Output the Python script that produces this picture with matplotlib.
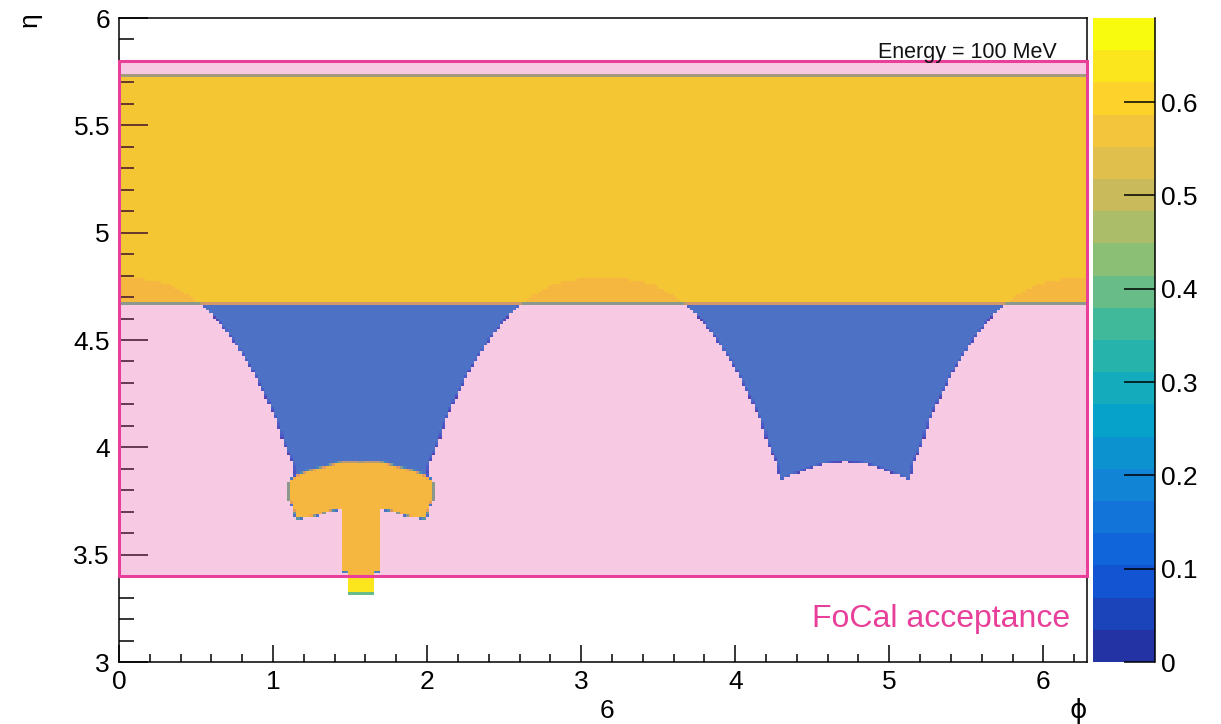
import numpy as np
import matplotlib
matplotlib.use("Agg")
import matplotlib.pyplot as plt
from matplotlib.path import Path
from matplotlib.colors import ListedColormap, BoundaryNorm, LinearSegmentedColormap
from matplotlib.patches import Rectangle
from matplotlib.ticker import MultipleLocator, FormatStrFormatter

plt.rcParams['font.family'] = ['Liberation Sans', 'DejaVu Sans']

# ---------------- data ----------------
phi_min, phi_max = 0.0, 2 * np.pi
eta_min, eta_max = 3.0, 6.0
n_phi_bins = 300
n_eta_bins = 240
z_max = 0.69
n_levels = 20

# forward band (full phi coverage)
band_eta = [4.667, 5.733]
band_value = 0.685

# slightly lower-valued rims inside the band, centred at phi = 0, pi, 2pi
rim_centers = [0.0, np.pi, 2 * np.pi]
rim_d = [-0.526, -0.42, -0.31, -0.16, 0.0, 0.16, 0.31, 0.42, 0.526]
rim_eta = [4.667, 4.725, 4.765, 4.785, 4.795, 4.785, 4.765, 4.725, 4.667]
rim_value = 0.64

# blue arches below the band, centred at phi = pi/2, 3pi/2 (half outline: top -> bottom centre)
arch_centers = [np.pi / 2, 3 * np.pi / 2]
arch_e = [1.045, 0.92, 0.83, 0.74, 0.70, 0.63, 0.55, 0.49, 0.44, 0.42, 0.30, 0.20, 0.10, 0.0]
arch_eta = [4.667, 4.588, 4.50, 4.40, 4.355, 4.255, 4.135, 4.00, 3.93, 3.85, 3.885, 3.912, 3.93, 3.935]
arch_value = 0.19

# mushroom-shaped patch at phi = pi/2 (half outline, offsets from centre)
mush_center = np.pi / 2
mush_e = [0.0, -0.125, -0.24, -0.33, -0.41, -0.46, -0.475, -0.475, -0.45, -0.42,
          -0.33, -0.25, -0.19, -0.127, -0.127, -0.086, -0.086, 0.0]
mush_eta = [3.933, 3.933, 3.910, 3.893, 3.872, 3.850, 3.835, 3.75, 3.74, 3.668,
            3.674, 3.690, 3.705, 3.712, 3.42, 3.42, 3.3165, 3.3165]
mush_value = 0.64

# acceptance box
box_phi = [0.0, 2 * np.pi]
box_eta = [3.4, 5.8]

cbar_ticks = [0, 0.1, 0.2, 0.3, 0.4, 0.5, 0.6]

# ROOT kBird-like palette stops (as seen on screen)
bird_stops = [0.0, 0.125, 0.25, 0.375, 0.5, 0.625, 0.75, 0.875, 1.0]
bird_r = [0.14, 0.0592, 0.0780, 0.0232, 0.1802, 0.5301, 0.8186, 0.9956, 0.9764]
bird_g = [0.20, 0.3599, 0.5041, 0.6419, 0.7178, 0.7492, 0.7328, 0.7862, 0.9832]
bird_b = [0.64, 0.8684, 0.8385, 0.7914, 0.6425, 0.4662, 0.3499, 0.1968, 0.0539]

pink = (232 / 255, 64 / 255, 154 / 255)

# ---------------- build histogram (bin coverage) ----------------
phi_edges = np.linspace(phi_min, phi_max, n_phi_bins + 1)
eta_edges = np.linspace(eta_min, eta_max, n_eta_bins + 1)
sub = 8
dphi = (phi_max - phi_min) / n_phi_bins
deta = (eta_max - eta_min) / n_eta_bins
px = phi_min + (np.arange(n_phi_bins * sub) + 0.5) * dphi / sub
py = eta_min + (np.arange(n_eta_bins * sub) + 0.5) * deta / sub
PX, PY = np.meshgrid(px, py)
val = np.zeros(PX.shape)


def inside(verts):
    """Boolean mask of sub-samples inside polygon (restricted to its bounding box)."""
    verts = np.asarray(verts)
    out = np.zeros(PX.shape, dtype=bool)
    ix = np.where((px >= verts[:, 0].min()) & (px <= verts[:, 0].max()))[0]
    iy = np.where((py >= verts[:, 1].min()) & (py <= verts[:, 1].max()))[0]
    if len(ix) == 0 or len(iy) == 0:
        return out
    sx, sy = np.meshgrid(px[ix], py[iy])
    m = Path(verts).contains_points(np.column_stack([sx.ravel(), sy.ravel()]))
    out[iy[0]:iy[-1] + 1, ix[0]:ix[-1] + 1] = m.reshape(sx.shape)
    return out


inband = (PY >= band_eta[0]) & (PY <= band_eta[1])
val[inband] = band_value
for c in rim_centers:
    m = inside(np.column_stack([c + np.array(rim_d), np.array(rim_eta)]))
    val[m & inband] = rim_value

ae = np.array(arch_e)
aeta = np.array(arch_eta)
for c in arch_centers:
    m = inside(np.column_stack([np.concatenate([c - ae, c + ae[::-1]]),
                                np.concatenate([aeta, aeta[::-1]])]))
    val[m & ~inband] = arch_value

me = np.array(mush_e)
meta = np.array(mush_eta)
m = inside(np.column_stack([np.concatenate([mush_center + me, mush_center - me[::-1]]),
                            np.concatenate([meta, meta[::-1]])]))
val[m] = mush_value

blocks = val.reshape(n_eta_bins, sub, n_phi_bins, sub)
H = blocks.mean(axis=(1, 3))
coverage = (blocks > 0).mean(axis=(1, 3))
H = np.ma.masked_where(coverage < 0.3, H)

# ---------------- colours ----------------
bird = LinearSegmentedColormap.from_list(
    'bird', list(zip(bird_stops, zip(bird_r, bird_g, bird_b))))
cmap = ListedColormap([bird(i / (n_levels - 1)) for i in range(n_levels)])
levels = np.linspace(0, z_max, n_levels + 1)
norm = BoundaryNorm(levels, n_levels)

# ---------------- figure ----------------
W, Hpx = 1221, 724
fig = plt.figure(figsize=(W / 100, Hpx / 100), dpi=100)
ax = fig.add_axes([119 / W, 1 - 662 / Hpx, (1087 - 119) / W, (662 - 18) / Hpx])
cax = fig.add_axes([1093 / W, 1 - 662 / Hpx, (1155 - 1093) / W, (662 - 18) / Hpx])

mesh = ax.pcolormesh(phi_edges, eta_edges, H, cmap=cmap, norm=norm, zorder=1)

ax.set_xlim(phi_min, phi_max)
ax.set_ylim(eta_min, eta_max)
ax.set_axisbelow(False)
ax.xaxis.set_major_locator(MultipleLocator(1))
ax.xaxis.set_minor_locator(MultipleLocator(0.2))
ax.yaxis.set_major_locator(MultipleLocator(0.5))
ax.yaxis.set_minor_locator(MultipleLocator(0.1))
ax.yaxis.set_major_formatter(FormatStrFormatter('%g'))
ax.xaxis.set_major_formatter(FormatStrFormatter('%g'))
ax.tick_params(axis='x', which='major', direction='in', length=12, width=1.1,
               labelsize=19, pad=6)
ax.tick_params(axis='x', which='minor', direction='in', length=6, width=1.1)
ax.tick_params(axis='y', which='major', direction='in', length=21, width=1.1,
               labelsize=19, pad=6.5)
ax.tick_params(axis='y', which='minor', direction='in', length=10.5, width=1.1)
for s in ax.spines.values():
    s.set_linewidth(1.1)

# acceptance box
rect = Rectangle((box_phi[0], box_eta[0]), box_phi[1] - box_phi[0], box_eta[1] - box_eta[0],
                 facecolor=pink + (0.28,), edgecolor=pink, linewidth=2.2, zorder=3,
                 clip_on=False)
ax.add_patch(rect)

ax.text(0.969, 0.947, 'Energy = 100 MeV', transform=ax.transAxes, ha='right', va='center',
        fontsize=15.5, color='#111111', zorder=5)
ax.text(0.9824, 0.066, 'FoCal acceptance', transform=ax.transAxes, ha='right', va='center',
        fontsize=23, color=pink, zorder=5)

fig.text(30 / W, 1 - 20 / Hpx, 'η', rotation=90, ha='center', va='center', fontsize=19)
fig.text(1078 / W, 1 - 711 / Hpx, 'ϕ', ha='center', va='center', fontsize=19,
         family=['DejaVu Sans'])
fig.text(607 / W, 1 - 711 / Hpx, '6', ha='center', va='center', fontsize=19)

# colour scale
cb = fig.colorbar(mesh, cax=cax, ticks=cbar_ticks)
cb.outline.set_visible(False)
cax.spines['right'].set_visible(True)
cax.spines['right'].set_linewidth(1.1)
cax.yaxis.set_major_formatter(FormatStrFormatter('%g'))
cax.tick_params(axis='y', which='both', direction='in', length=22, width=1.1,
                labelsize=19, pad=4, right=True, left=False)
cax.minorticks_off()

fig.savefig('out.png', dpi=100)
